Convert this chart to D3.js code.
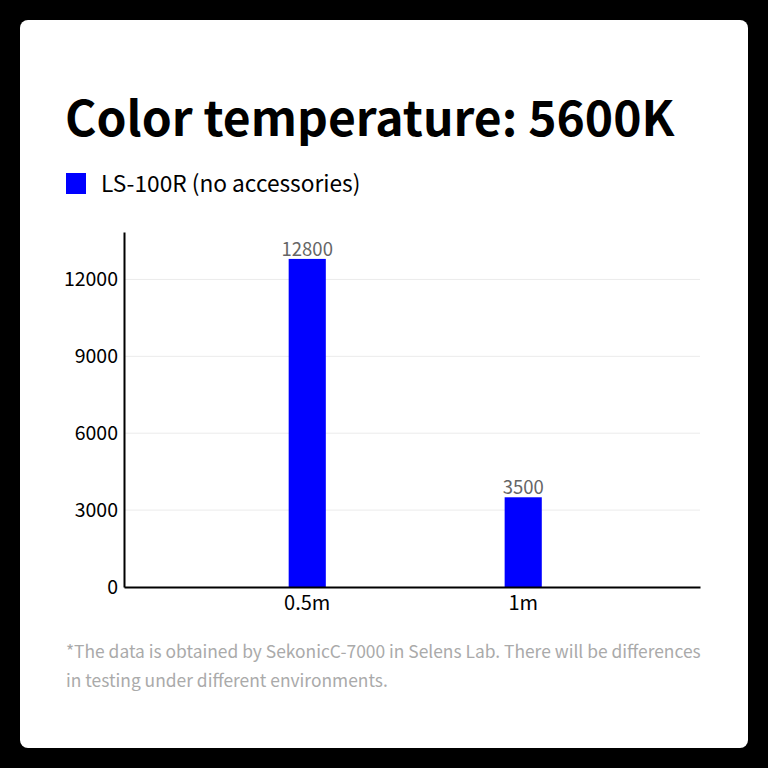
<!DOCTYPE html>
<html>
<head>
<meta charset="utf-8">
<script src="https://cdn.jsdelivr.net/npm/d3@7"></script>
<style>
  html, body { margin: 0; padding: 0; background: #000; }
  svg { display: block; }
  text { font-family: "Noto Sans CJK SC", "Noto Sans", sans-serif; }
</style>
</head>
<body>
<div id="chart"></div>
<script>
// Chart data
const categories = ["0.5m", "1m"];
const values = [12800, 3500];
const yTicks = [0, 3000, 6000, 9000, 12000];
const seriesName = "LS-100R (no accessories)";
const title = "Color temperature: 5600K";
const footnote = [
  "*The data is obtained by SekonicC-7000 in Selens Lab. There will be differences",
  "in testing under different environments."
];

const W = 768, H = 768;
const plot = { left: 124, right: 700, top: 232, bottom: 587 };

const svg = d3.select("#chart")
  .append("svg")
  .attr("width", W)
  .attr("height", H);

// black frame + white card
svg.append("rect")
  .attr("width", W).attr("height", H)
  .attr("fill", "#000");
svg.append("rect")
  .attr("x", 20).attr("y", 20)
  .attr("width", 728).attr("height", 728)
  .attr("rx", 8)
  .attr("fill", "#fff");

// title
svg.append("text")
  .attr("x", 65).attr("y", 136)
  .style("font-size", "48px")
  .style("font-weight", 700)
  .attr("fill", "#000")
  .text(title);

// legend
svg.append("rect")
  .attr("x", 66).attr("y", 173)
  .attr("width", 20).attr("height", 21)
  .attr("fill", "#0000ff");
svg.append("text")
  .attr("x", 101).attr("y", 192)
  .style("font-size", "22.7px")
  .attr("fill", "#000")
  .text(seriesName);

// scales
const x = d3.scaleBand()
  .domain(categories)
  .range([plot.left, plot.right])
  .paddingInner(0.828)
  .paddingOuter(0.7475)
  .align(0.51);

const y = d3.scaleLinear()
  .domain([0, 13850])
  .range([plot.bottom, plot.top]);

// grid lines
svg.append("g")
  .selectAll("line")
  .data(yTicks.filter(d => d > 0))
  .join("line")
  .attr("x1", plot.left).attr("x2", plot.right)
  .attr("y1", d => y(d)).attr("y2", d => y(d))
  .attr("stroke", "#ebebeb")
  .attr("stroke-width", 1);

// y axis
const yAxis = svg.append("g")
  .attr("transform", `translate(${plot.left},0)`)
  .call(d3.axisLeft(y).tickValues(yTicks).tickFormat(d3.format("d")).tickSize(0).tickPadding(6));
yAxis.select(".domain").attr("stroke", "#000").attr("stroke-width", 2);
yAxis.selectAll(".tick text")
  .attr("fill", "#000")
  .style("font-size", "19.5px")
  .style("font-family", "'Noto Sans CJK SC', sans-serif");

// bars
svg.append("g")
  .selectAll("rect")
  .data(values)
  .join("rect")
  .attr("x", (d, i) => x(categories[i]))
  .attr("y", d => y(d))
  .attr("width", x.bandwidth())
  .attr("height", d => y(0) - y(d))
  .attr("fill", "#0000ff");

// value labels
svg.append("g")
  .selectAll("text")
  .data(values)
  .join("text")
  .attr("x", (d, i) => x(categories[i]) + x.bandwidth() / 2)
  .attr("y", d => y(d) - 3)
  .attr("text-anchor", "middle")
  .attr("fill", "#666")
  .style("font-size", "18.5px")
  .text(d => d);

// x axis
const xAxis = svg.append("g")
  .attr("transform", `translate(0,${plot.bottom})`)
  .call(d3.axisBottom(x).tickSize(0).tickPadding(9));
xAxis.select(".domain").attr("stroke", "#000").attr("stroke-width", 2);
xAxis.selectAll(".tick text")
  .attr("fill", "#000")
  .style("font-size", "20px")
  .style("font-family", "'Noto Sans CJK SC', sans-serif");

// footnote
svg.append("g")
  .selectAll("text")
  .data(footnote)
  .join("text")
  .attr("x", 66)
  .attr("y", (d, i) => 658 + i * 29)
  .attr("fill", "#aaa")
  .style("font-size", "17.4px")
  .text(d => d);
</script>
</body>
</html>
